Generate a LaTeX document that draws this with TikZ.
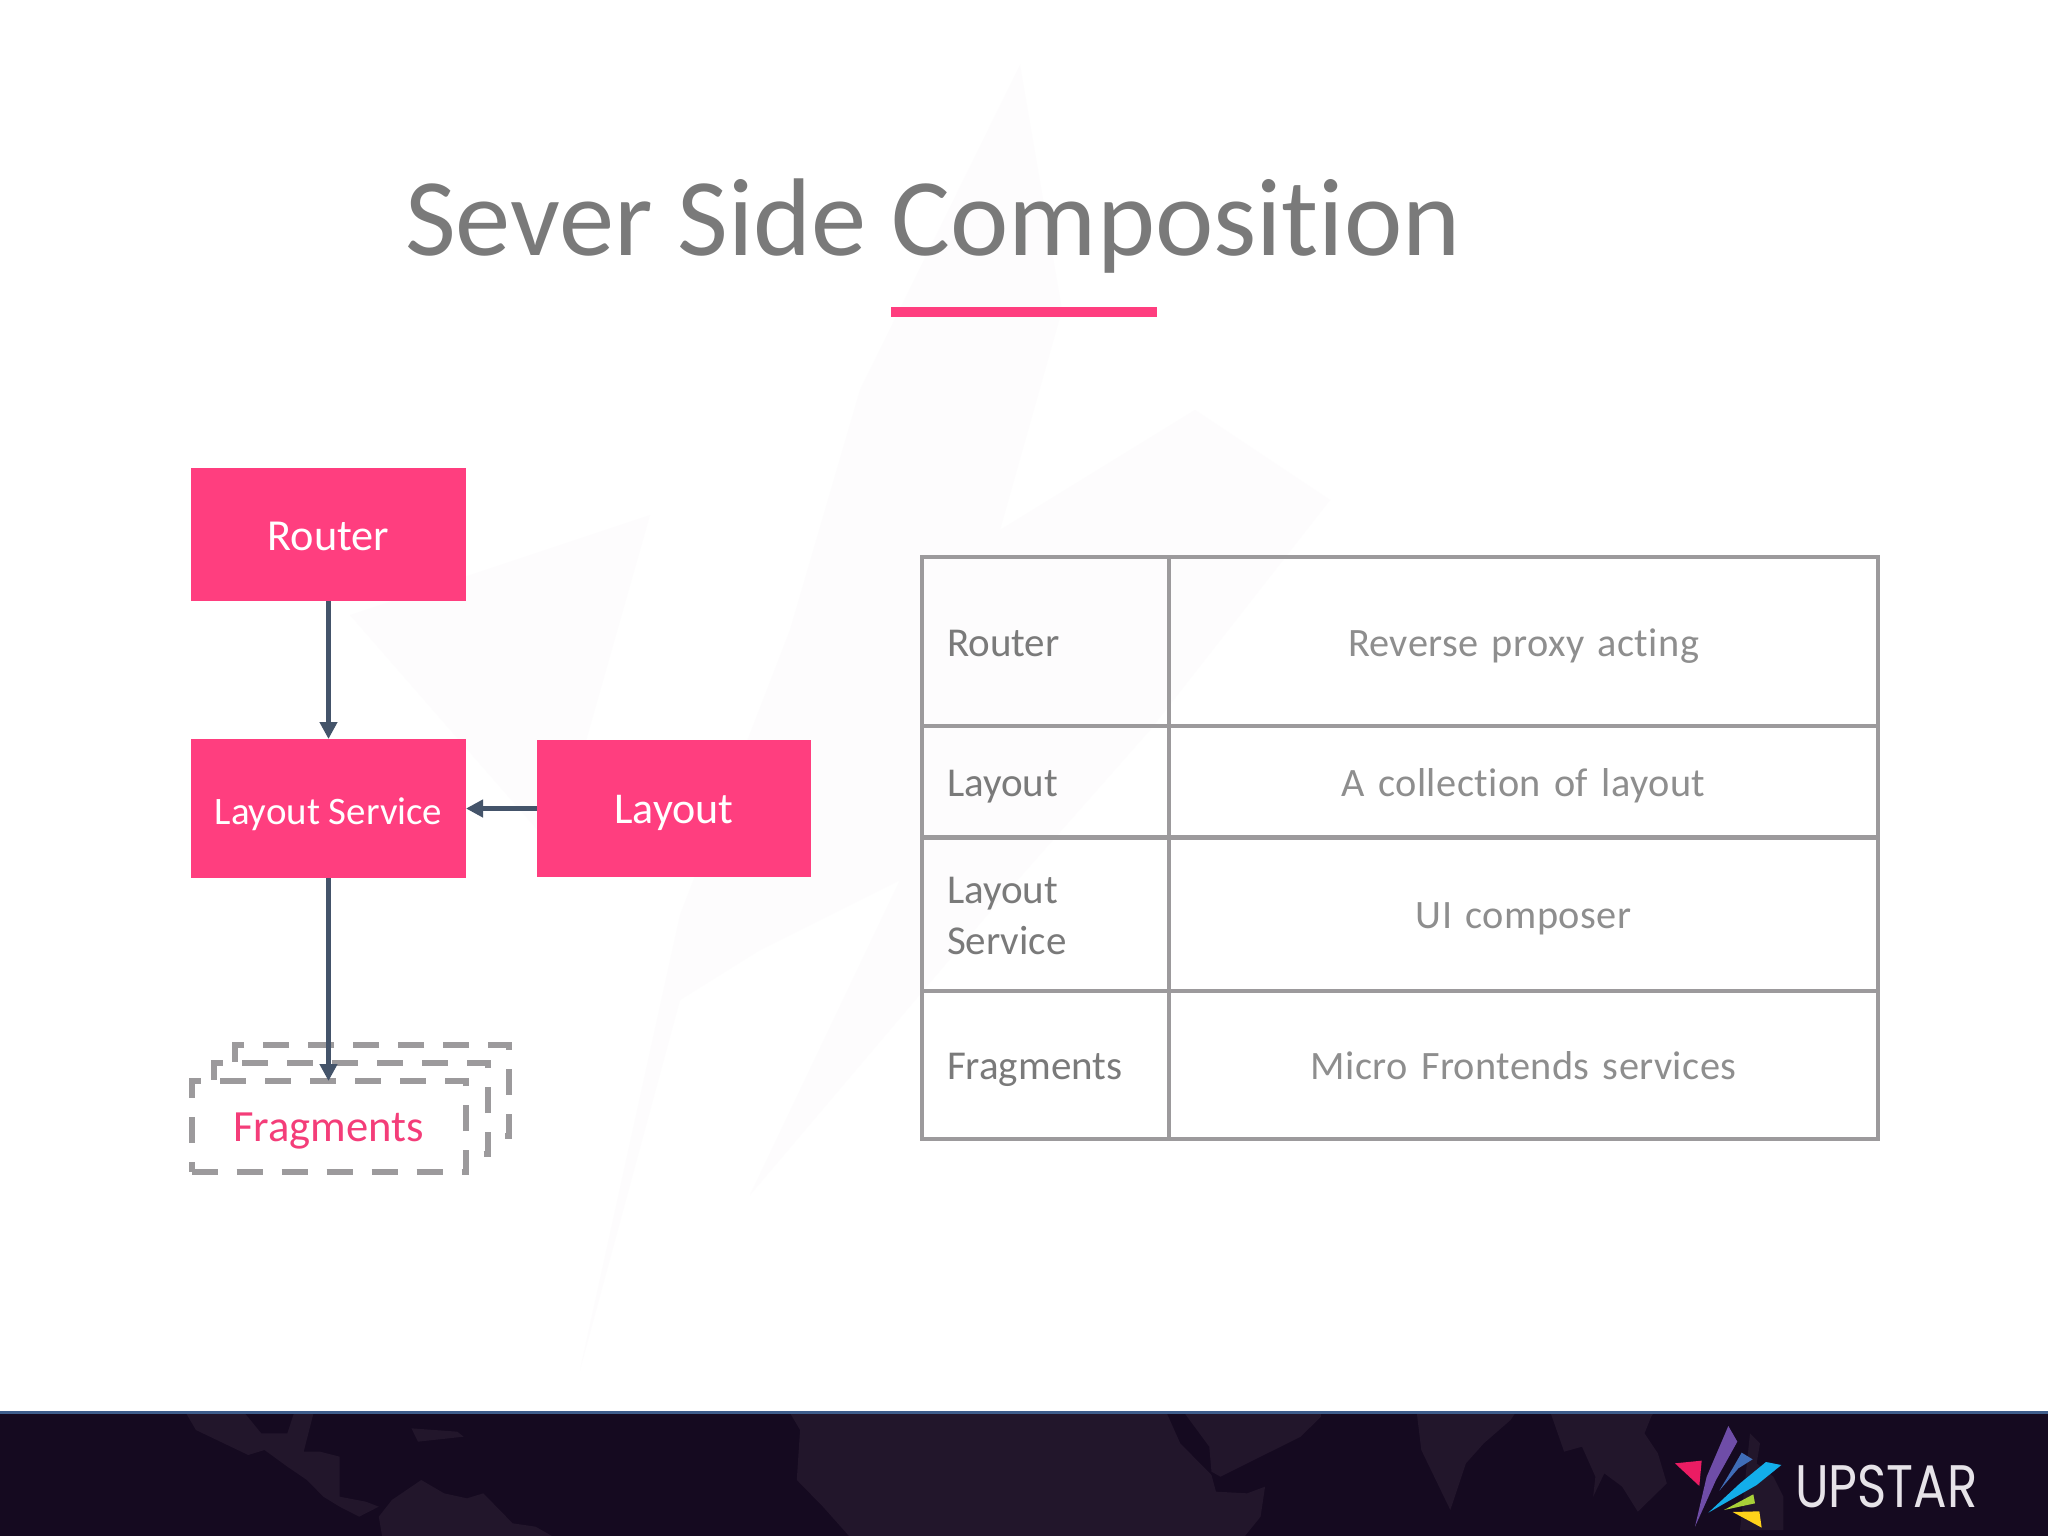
\documentclass[tikz,border=0pt]{standalone}
\usepackage{fontspec}
\usepackage{graphicx}
\setmainfont[Ligatures=NoCommon]{Carlito}
\newfontfamily\lightfont[Ligatures=NoCommon,LetterSpace=1,WordSpace=0.6]{Carlito}
\newfontfamily\logofont{Poppins}
\usetikzlibrary{arrows.meta}
\definecolor{brandpink}{HTML}{FF3E7F}
\definecolor{pinktext}{HTML}{F43D79}
\definecolor{arrowblue}{HTML}{44546A}
\definecolor{gridgray}{HTML}{9C9A9C}
\definecolor{titlegray}{HTML}{7A7A7A}
\definecolor{lightgray}{HTML}{8E8E8E}
\definecolor{footdark}{HTML}{150A20}
\definecolor{footmap}{HTML}{22162B}
\definecolor{footline}{HTML}{3F5E8C}
\definecolor{wm}{HTML}{FDFCFD}
\definecolor{logoA}{HTML}{EB1C63}
\definecolor{logoB}{HTML}{6F4DA8}
\definecolor{logoC}{HTML}{3F6DB8}
\definecolor{logoD}{HTML}{13AEEA}
\definecolor{logoE}{HTML}{A8CF38}
\definecolor{logoF}{HTML}{FFD21A}
\definecolor{logoT}{HTML}{E6E3E8}
\newcommand{\cellstrut}{\rule[-7pt]{0pt}{43pt}}
\newcommand{\boxstrut}{\rule[-7pt]{0pt}{45pt}}
\tikzset{
  pinkbox/.style={draw=none,fill=brandpink,text=white,inner sep=0pt,outer sep=0pt,minimum width=275pt},
  dashbox/.style={draw=gridgray,fill=white,line width=6pt,dash pattern=on 26pt off 19pt,inner sep=0pt,outer sep=0pt,minimum width=274pt,minimum height=91pt},
  conn/.style={draw=arrowblue,line width=4.5pt,-{Triangle[length=17pt,width=17pt]}},
  cell/.style={draw=gridgray,line width=4.5pt,inner sep=0pt,outer sep=0pt},
  leftcell/.style={cell,minimum width=247pt,align=left,text width=197pt,text=titlegray,font=\fontsize{41}{51}\selectfont},
  rightcell/.style={cell,minimum width=709pt,align=center,text width=700pt,text=lightgray,font=\lightfont\fontsize{40.3}{51}\selectfont},
  mapshape/.style={fill=footmap,draw=none}
}
\begin{document}
\begin{tikzpicture}[x=1pt,y=-1pt]
\useasboundingbox (0,0) rectangle (2048,1536);
\fill[white] (0,0) rectangle (2048,1536);
% watermark
\fill[wm] (1020,65) -- (1062,310) -- (1000,530) -- (1195,410) -- (1330,500) -- (1150,730) -- (1000,900) -- (750,1195) -- (900,880) -- (760,950) -- (680,1000) -- (580,1370) -- (680,915) -- (790,630) -- (860,390) -- cycle;
\fill[wm] (350,615) -- (650,515) -- (555,850) -- cycle;
% footer
\fill[footdark] (0,1411) rectangle (2048,1536);
\begin{scope}[shift={(0,1400)},xscale=0.6531,yscale=0.3333]
\fill[mapshape] (285,40) -- (300,90) -- (380,165) -- (405,150) -- (440,200) -- (470,240) -- (495,290) -- (520,320) -- (550,350) -- (580,320) -- (560,305) -- (520,290) -- (520,170) -- (490,155) -- (465,155) -- (480,40) -- (450,40) -- (440,100) -- (400,100) -- (375,40) -- cycle;
\fill[mapshape] (630,85) -- (640,125) -- (710,110) -- (700,95) -- cycle;
\fill[mapshape] (645,240) -- (600,300) -- (580,350) -- (585,408) -- (845,408) -- (820,380) -- (785,370) -- (750,300) -- (740,280) -- (715,295) -- (680,280) -- cycle;
\fill[mapshape] (1210,40) -- (1225,90) -- (1220,240) -- (1260,320) -- (1300,408) -- (1568,408) -- (1568,40) -- cycle;
\end{scope}
\begin{scope}[shift={(1024,1400)},xscale=0.4464,yscale=0.3333]
\fill[mapshape] (0,40) -- (320,40) -- (350,130) -- (420,225) -- (430,275) -- (500,280) -- (540,260) -- (530,350) -- (495,408) -- (0,408) -- cycle;
\fill[mapshape] (360,40) -- (415,140) -- (420,215) -- (440,230) -- (470,210) -- (560,150) -- (620,110) -- (665,50) -- (665,40) -- cycle;
\fill[mapshape] (880,40) -- (890,150) -- (955,330) -- (990,190) -- (1030,130) -- (1090,60) -- (1100,40) -- cycle;
\fill[mapshape] (1180,40) -- (1210,155) -- (1250,140) -- (1280,230) -- (1275,290) -- (1300,220) -- (1340,260) -- (1375,335) -- (1440,250) -- (1420,160) -- (1390,100) -- (1405,50) -- (1410,40) -- cycle;
\end{scope}
\fill[footline] (0,1411) rectangle (2048,1414);
% logo
\begin{scope}[shift={(1640,1400)},scale=0.3333]
\fill[footmap] (330,100) -- (360,130) -- (350,190) -- (400,230) -- (430,290) -- (430,390) -- (300,390) -- cycle;
\fill[logoA] (105,190) -- (185,182) -- (178,258) -- cycle;
\fill[logoB] (265,78) -- (292,125) -- (228,240) -- (165,380) -- (200,230) -- cycle;
\fill[logoC] (305,158) -- (338,178) -- (295,205) -- (238,272) -- (275,210) -- cycle;
\fill[logoD] (378,186) -- (424,195) -- (350,255) -- (205,338) -- (300,250) -- cycle;
\fill[logoE] (340,283) -- (345,310) -- (252,330) -- cycle;
\fill[logoF] (278,336) -- (358,334) -- (365,383) -- cycle;
\end{scope}
\node[inner sep=0pt,anchor=base west,text=logoT] (logotext) at (1795,1507) {\scalebox{0.83}[1]{\logofont\fontsize{60}{60}\selectfont UPSTAR}};
% title
\node[inner sep=0pt,anchor=base,text=titlegray,font=\fontsize{110.5}{115}\selectfont] (title) at (933,255) {Sever Side Composition};
\fill[brandpink] (891,307) rectangle (1157,317);
% flow
\node[pinkbox,minimum height=133pt,font=\fontsize{44.3}{50}\selectfont] (router) at (328.5,534.5) {\boxstrut Router};
\node[pinkbox,minimum height=139pt,font=\fontsize{38.9}{45}\selectfont] (service) at (328.5,808.5) {\boxstrut Layout Service};
\node[pinkbox,minimum width=274pt,minimum height=137pt,font=\fontsize{44}{50}\selectfont] (layout) at (674,808.5) {\boxstrut Layout};
\node[dashbox] (fragback) at (372,1090) {};
\node[dashbox] (fragmid) at (350.5,1108.5) {};
\node[dashbox,text=pinktext,font=\fontsize{44.6}{50}\selectfont] (frag) at (328.5,1126.5) {\boxstrut Fragments};
\draw[conn] (router) -- (service);
\draw[conn] (layout) -- (service);
\draw[conn] (service) -- (frag.north);
% table
\node[leftcell,minimum height=169pt] (c1a) at (1045.5,641.5) {\cellstrut Router};
\node[rightcell,minimum height=169pt] (c1b) at (1523.5,641.5) {\cellstrut Reverse proxy acting};
\node[leftcell,minimum height=112pt] (c2a) at (1045.5,782) {\cellstrut Layout};
\node[rightcell,minimum height=112pt] (c2b) at (1523.5,782) {\cellstrut A collection of layout};
\node[leftcell,minimum height=154pt] (c3a) at (1045.5,914) {\cellstrut Layout\\\cellstrut Service};
\node[rightcell,minimum height=154pt] (c3b) at (1523.5,914) {\cellstrut UI composer};
\node[leftcell,minimum height=148pt] (c4a) at (1045.5,1065) {\cellstrut Fragments};
\node[rightcell,minimum height=148pt] (c4b) at (1523.5,1065) {\cellstrut Micro Frontends services};
\end{tikzpicture}
\end{document}
